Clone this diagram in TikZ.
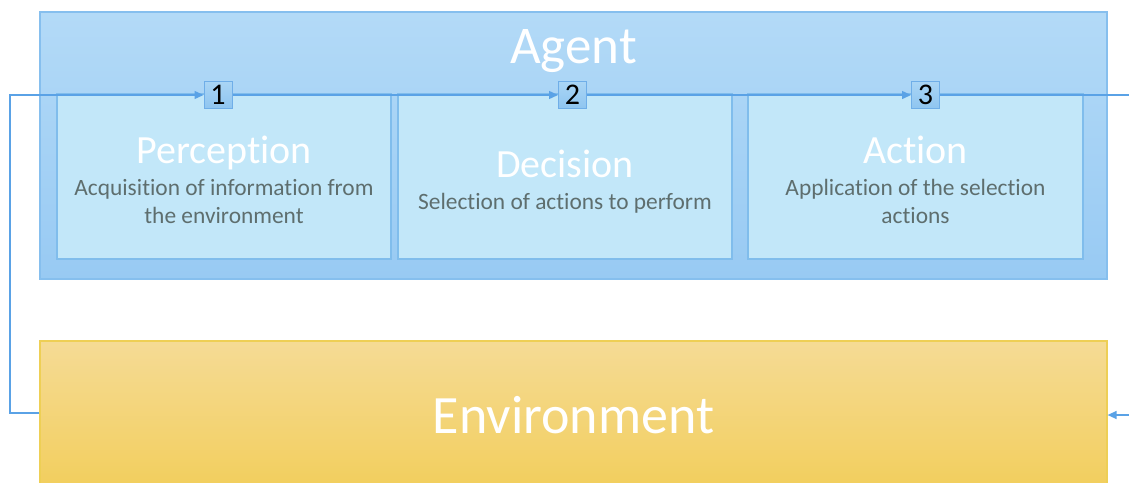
\documentclass[tikz,border=0pt]{standalone}
\usepackage{fontspec}
\setmainfont{Carlito}[Ligatures=NoCommon]
\usetikzlibrary{arrows.meta}
\definecolor{agtop}{HTML}{B3DAF7}
\definecolor{agbot}{HTML}{98CAF3}
\definecolor{agline}{HTML}{86BFEE}
\definecolor{infill}{HTML}{C2E7F9}
\definecolor{inline}{HTML}{80BDEC}
\definecolor{numtop}{HTML}{AAD5F5}
\definecolor{numbot}{HTML}{8EC5F0}
\definecolor{numline}{HTML}{6FAEE8}
\definecolor{arr}{HTML}{5AA2E6}
\definecolor{desc}{HTML}{5E6E6E}
\definecolor{envtop}{HTML}{F5DB95}
\definecolor{envbot}{HTML}{F2CE5C}
\definecolor{envline}{HTML}{EECF55}
\tikzset{
  agentbox/.style={draw=agline, line width=0.6pt, top color=agtop, bottom color=agbot, minimum width=533.5pt, minimum height=133.5pt, inner sep=0pt},
  envbox/.style={draw=envline, line width=0.6pt, top color=envtop, bottom color=envbot, minimum width=533.5pt, minimum height=74.5pt, inner sep=0pt, text=white, font=\fontsize{27}{30}\selectfont},
  stagebox/.style={draw=inline, line width=0.6pt, fill=infill, minimum width=167pt, minimum height=82.5pt, inner sep=0pt},
  stagetext/.style={align=center, inner sep=0pt, text=desc, font=\fontsize{11.7}{14}\selectfont},
  numbox/.style={draw=numline, line width=0.5pt, top color=numtop, bottom color=numbot, minimum width=14pt, minimum height=13.5pt, inner sep=0pt, font=\fontsize{15}{15}\selectfont},
  flow/.style={draw=arr, line width=0.7pt, -{Triangle[length=4.5pt,width=4pt]}},
}
\newcommand{\stagetitle}[1]{{\color{white}\fontsize{20}{22}\selectfont #1}}
\begin{document}
\begin{tikzpicture}[x=0.5pt,y=-0.5pt]
\useasboundingbox (0,0) rectangle (1129,482);
\clip (0,0) rectangle (1129,482);
\node[agentbox] (agent) at (573.5,145.5) {};
\node[text=white, font=\fontsize{26.5}{30}\selectfont] (agenttitle) at (573.5,51) {Agent};
\node[stagebox] (perc) at (224,176.5) {};
\node[stagebox] (dec) at (565,176.5) {};
\node[stagebox, minimum width=167.5pt] (act) at (915.5,176.5) {};
\node[stagetext] (perct) at (224,179.5) {\stagetitle{Perception}\\[2pt]Acquisition of information from\\the environment};
\node[stagetext] (dect) at (565,181.5) {\stagetitle{Decision}\\[2pt]Selection of actions to perform};
\node[stagetext] (actt) at (915.5,179.5) {\stagetitle{Action}\\[2pt]Application of the selection\\actions};
\node[numbox] (n1) at (218,95) {1};
\node[numbox] (n2) at (572.5,95) {2};
\node[numbox] (n3) at (925.5,95) {3};
\node[envbox] (env) at (573.5,415.5) {Environment};
\coordinate (lc1) at (10,413);
\coordinate (lc2) at (10,95);
\coordinate (rc1) at (1140,95);
\coordinate (rc2) at (1140,415);
\draw[flow] (env.west |- 0,413) -- (lc1) -- (lc2) -- (n1.west);
\draw[flow] (n1.east) -- (n2.west);
\draw[flow] (n2.east) -- (n3.west);
\draw[flow] (n3.east) -- (rc1) -- (rc2) -- (env.east |- 0,415);
\end{tikzpicture}
\end{document}
